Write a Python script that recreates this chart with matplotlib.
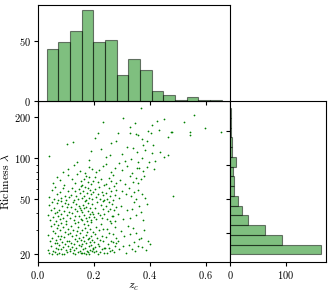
import matplotlib
matplotlib.use('Agg')
import matplotlib.pyplot as plt
import numpy as np
from matplotlib.ticker import FixedLocator, NullFormatter, ScalarFormatter

plt.rcParams['font.family'] = 'serif'
plt.rcParams['font.serif'] = ['cmr10']
plt.rcParams['mathtext.fontset'] = 'cm'
plt.rcParams['axes.formatter.use_mathtext'] = True

# ---- scatter data (z_c, richness) ----
# lambda 20-34
z_a = [0.035, 0.038, 0.041, 0.044, 0.046, 0.048, 0.050, 0.052, 0.054, 0.056, 0.058, 0.060, 0.061, 0.063, 0.065, 0.066, 0.068, 0.069, 0.070, 0.071, 0.072, 0.073,
       0.075, 0.077, 0.078, 0.080, 0.082, 0.083, 0.085, 0.087, 0.088, 0.090, 0.092, 0.093, 0.095, 0.097, 0.098, 0.100, 0.102, 0.104, 0.105, 0.107, 0.109, 0.110, 0.112, 0.114,
       0.116, 0.117, 0.119, 0.120, 0.122, 0.124, 0.125, 0.127, 0.128, 0.130, 0.132, 0.133, 0.135, 0.136, 0.138, 0.140, 0.141, 0.143, 0.145, 0.146, 0.148, 0.150, 0.151, 0.153, 0.155, 0.156,
       0.158, 0.159, 0.160, 0.162, 0.163, 0.164, 0.166, 0.167, 0.168, 0.170, 0.171, 0.172, 0.174, 0.175, 0.176, 0.178, 0.179, 0.180, 0.182, 0.183, 0.184, 0.186, 0.187, 0.188, 0.190, 0.191, 0.192, 0.194, 0.195, 0.196, 0.197, 0.198,
       0.200, 0.202, 0.204, 0.206, 0.208, 0.210, 0.212, 0.214, 0.216, 0.218, 0.220, 0.222, 0.224, 0.226, 0.228, 0.230, 0.232, 0.234, 0.236, 0.238,
       0.242, 0.244, 0.247, 0.249, 0.251, 0.254, 0.256, 0.258, 0.261, 0.263, 0.265, 0.268, 0.270, 0.272, 0.275, 0.277, 0.279, 0.281,
       0.286, 0.292, 0.298, 0.304, 0.310, 0.315, 0.321,
       0.327, 0.331, 0.336, 0.340, 0.345, 0.349, 0.353, 0.358, 0.362,
       0.368, 0.374, 0.380, 0.387, 0.393, 0.400]
rich_a = [21.3, 27.5, 20.1, 24.6, 31.8, 22.7, 19.9, 26.1, 29.4, 21.0, 33.2, 23.8, 20.6, 28.3, 25.2, 22.1, 30.7, 19.8, 24.0, 32.5, 21.6, 26.8,
          23.1, 20.4, 29.9, 25.7, 21.8, 33.6, 27.0, 20.0, 24.3, 31.2, 22.5, 26.4, 19.9, 28.8, 23.5, 21.2, 32.9, 25.0, 20.7, 27.8, 22.9, 30.3, 24.8, 21.5,
          28.2, 20.9, 24.1, 32.0, 22.3, 26.9, 20.2, 30.1, 23.7, 21.4, 25.5, 33.8, 19.9, 27.3, 22.0, 29.2, 24.7, 20.5, 31.4, 23.0, 26.2, 21.1, 28.6, 20.3, 25.1, 22.6,
          20.1, 23.4, 29.6, 21.7, 26.5, 33.1, 20.4, 24.9, 22.2, 31.0, 19.8, 27.6, 23.9, 21.0, 28.9, 25.8, 20.6, 32.6, 22.8, 26.0, 20.0, 30.4, 24.4, 21.3, 27.1, 23.2, 33.9, 20.8, 25.3, 22.0, 29.0, 21.5,
          24.2, 20.7, 28.0, 22.4, 31.6, 21.0, 26.2, 23.6, 19.9, 29.8, 22.9, 25.4, 20.5, 33.0, 27.2, 21.8, 24.6, 30.6, 22.2, 20.2,
          21.9, 26.6, 20.3, 30.2, 23.5, 22.1, 28.4, 20.9, 25.0, 33.5, 21.4, 24.3, 27.7, 20.6, 22.7, 31.2, 23.8, 26.1,
          24.8, 21.5, 29.3, 22.9, 26.8, 20.4, 32.1,
          23.1, 27.9, 21.8, 30.9, 24.4, 20.9, 28.5, 22.6, 25.7,
          26.3, 22.3, 30.0, 21.2, 24.9, 23.6]

# lambda 34-49
z_b = [0.036, 0.040, 0.045, 0.049, 0.052, 0.055, 0.059, 0.062, 0.065, 0.068, 0.070, 0.073,
       0.076, 0.079, 0.082, 0.085, 0.088, 0.091, 0.094, 0.097, 0.100, 0.103, 0.106, 0.109, 0.113,
       0.117, 0.120, 0.123, 0.126, 0.129, 0.132, 0.135, 0.138, 0.141, 0.144, 0.147, 0.149, 0.151, 0.153, 0.155,
       0.158, 0.160, 0.163, 0.165, 0.167, 0.170, 0.172, 0.174, 0.177, 0.179, 0.181, 0.184, 0.186, 0.188, 0.191, 0.193, 0.195, 0.197,
       0.201, 0.205, 0.209, 0.213, 0.217, 0.221, 0.225, 0.229, 0.232, 0.235, 0.238,
       0.243, 0.246, 0.250, 0.253, 0.257, 0.260, 0.264, 0.267, 0.270, 0.273, 0.276, 0.280,
       0.288, 0.296, 0.306, 0.318,
       0.329, 0.337, 0.344, 0.352, 0.361,
       0.370, 0.378, 0.389]
rich_b = [38.2, 45.6, 35.1, 41.8, 47.9, 36.9, 43.3, 39.6, 34.5, 46.8, 40.7, 37.5,
          42.1, 35.8, 48.4, 39.0, 44.7, 36.3, 41.2, 47.1, 34.8, 43.9, 38.6, 46.0, 40.2,
          36.6, 44.2, 39.8, 48.0, 35.4, 42.6, 37.9, 46.5, 40.9, 34.3, 45.1, 38.1, 43.0, 36.0, 41.5,
          40.3, 35.6, 45.8, 38.4, 42.9, 48.7, 36.8, 44.0, 34.9, 41.0, 47.3, 37.2, 43.6, 39.3, 35.2, 46.1, 40.6, 38.9,
          37.0, 43.4, 35.9, 47.5, 40.0, 38.7, 45.3, 36.5, 42.2, 48.8, 39.4,
          44.5, 36.2, 40.8, 47.7, 35.0, 42.4, 38.0, 46.3, 37.6, 41.6, 34.7, 43.8,
          39.2, 45.0, 35.7, 41.9,
          36.4, 42.7, 47.6, 38.3, 44.8,
          40.5, 35.3, 46.6]

# lambda 49-77
z_c_mid = [0.042, 0.050, 0.057, 0.063, 0.068, 0.072,
           0.078, 0.084, 0.090, 0.096, 0.101, 0.107, 0.112,
           0.118, 0.123, 0.128, 0.133, 0.138, 0.143, 0.147, 0.151, 0.155,
           0.159, 0.162, 0.166, 0.169, 0.173, 0.176, 0.180, 0.183, 0.187, 0.190, 0.194, 0.198,
           0.203, 0.208, 0.214, 0.219, 0.224, 0.229, 0.233, 0.237,
           0.244, 0.249, 0.254, 0.259, 0.263, 0.268, 0.272, 0.276, 0.280,
           0.290, 0.303, 0.316,
           0.328, 0.335, 0.343, 0.351, 0.360,
           0.371, 0.383, 0.485,
           0.055, 0.070, 0.081, 0.095, 0.108, 0.121, 0.132, 0.142, 0.153,
           0.160, 0.166, 0.172, 0.178, 0.184, 0.190, 0.196,
           0.205, 0.215, 0.226, 0.236, 0.245, 0.254, 0.262, 0.270, 0.278,
           0.295, 0.312, 0.330, 0.341, 0.350, 0.359, 0.369, 0.380]
rich_c_mid = [52.3, 58.7, 50.1, 61.5, 54.9, 49.6,
              56.2, 50.8, 60.3, 53.4, 49.3, 58.1, 51.9,
              54.0, 61.0, 49.8, 57.3, 52.6, 50.4, 59.6, 55.5, 62.3,
              50.9, 57.8, 53.2, 62.0, 49.5, 55.9, 60.8, 51.6, 58.9, 54.4, 50.0, 56.7,
              59.3, 52.0, 55.2, 61.8, 50.6, 57.0, 53.8, 49.9,
              55.6, 50.3, 60.1, 52.8, 57.6, 49.7, 62.6, 54.2, 58.4,
              51.2, 58.0, 54.6,
              60.6, 53.0, 56.4, 50.5, 59.0,
              55.0, 51.4, 53.0,
              66.0, 72.5, 69.4, 64.2, 75.1, 71.0, 65.5, 76.2, 67.8,
              63.8, 70.2, 74.0, 66.9, 72.9, 64.9, 68.6,
              73.4, 67.2, 70.7, 63.5, 65.1, 71.8, 68.0, 75.6, 66.4,
              69.8, 64.6, 74.5, 67.5, 71.3, 65.8, 70.0, 73.9]

# lambda above 77 (sparse part)
z_high = [0.090, 0.110, 0.130, 0.150, 0.170, 0.183, 0.195, 0.210, 0.220, 0.232, 0.244, 0.262, 0.276, 0.300, 0.318,
          0.338, 0.355, 0.361, 0.375, 0.392, 0.415,
          0.464, 0.042, 0.258, 0.450, 0.243, 0.142, 0.313, 0.357, 0.396, 0.372, 0.333, 0.185, 0.290, 0.420,
          0.356, 0.189, 0.408, 0.437, 0.225, 0.300, 0.384, 0.342,
          0.281, 0.104, 0.125, 0.375, 0.411, 0.318, 0.262, 0.392,
          0.543, 0.357, 0.205, 0.372, 0.466,
          0.435, 0.543, 0.475, 0.480, 0.655, 0.217, 0.288, 0.330, 0.404, 0.352, 0.395,
          0.408, 0.330, 0.598,
          0.523, 0.232, 0.349, 0.425,
          0.305, 0.452, 0.560, 0.368]
rich_high = [79.5, 84.0, 90.0, 80.5, 78.3, 87.0, 83.2, 78.9, 82.0, 88.5, 91.5, 79.8, 85.0, 81.7, 88.0,
             78.0, 85.0, 85.5, 80.8, 86.4, 83.5,
             106, 104, 106, 102, 102, 94, 95, 94, 94, 100, 98, 97, 93, 96,
             111, 113, 109, 112, 117, 108, 115, 119,
             134, 128, 132, 125, 126, 122, 130, 133,
             147, 148, 140, 138, 143,
             161, 155, 155, 155, 155, 153, 152, 154, 154, 150, 158,
             176, 170, 168,
             185, 185, 181, 188,
             196, 194, 208, 232]

z_c = z_a + z_b + z_c_mid + z_high
richness = rich_a + rich_b + rich_c_mid + rich_high

# ---- marginal histograms (counts) ----
z_range = (0.032, 0.657)
z_counts = [43, 49, 58, 76, 49, 51, 22, 35, 26, 8, 5, 1, 3, 1, 1]
rich_range = (19.5, 233.0)
rich_counts = [164, 93, 62, 33, 21, 14, 8, 8, 5, 11, 3, 4, 2, 1, 1]

z_edges = np.linspace(z_range[0], z_range[1], len(z_counts) + 1)
r_edges = np.linspace(rich_range[0], rich_range[1], len(rich_counts) + 1)

fig = plt.figure(figsize=(3.32, 2.94), dpi=100)
ax = fig.add_axes([0.1136, 0.110, 0.579, 0.5466])
ax_top = fig.add_axes([0.1136, 0.6565, 0.579, 0.3265], sharex=ax)
ax_right = fig.add_axes([0.6928, 0.110, 0.289, 0.5466])

# scatter
ax.scatter(z_c, richness, s=1.6, c='g', linewidths=0)
ax.set_yscale('log')
ax.set_xlim(0, 0.687)
ax.set_ylim(17.5, 263)
ax.yaxis.set_major_locator(FixedLocator([20, 50, 100, 200]))
ax.yaxis.set_major_formatter(ScalarFormatter())
ax.yaxis.set_minor_formatter(NullFormatter())
ax.set_xticks([0.0, 0.2, 0.4, 0.6])
ax.set_xlabel(r'$z_c$', fontsize=8.5, labelpad=1)
ax.set_ylabel(r'Richness $\lambda$', fontsize=8.5, labelpad=2)
ax.tick_params(labelsize=7.5, length=3, pad=2)
ax.tick_params(which='minor', length=1.8)

# top histogram
ax_top.bar(z_edges[:-1], z_counts, width=np.diff(z_edges), align='edge',
           color='g', alpha=0.5, edgecolor='k', linewidth=0.8)
ax_top.set_ylim(0, 80)
ax_top.set_yticks([0, 50])
ax_top.tick_params(labelbottom=False, labelsize=7.5, length=3, pad=2)

# right histogram
ax_right.barh(r_edges[:-1], rich_counts, height=np.diff(r_edges), align='edge',
              color='g', alpha=0.5, edgecolor='k', linewidth=0.8)
ax_right.set_xlim(0, 172)
ax_right.set_xticks([0, 100])
ax_right.set_yticks([50, 100, 150, 200])
ax_right.tick_params(labelleft=False, labelsize=7.5, length=3, pad=2)

fig.savefig('out.png', dpi=100)
